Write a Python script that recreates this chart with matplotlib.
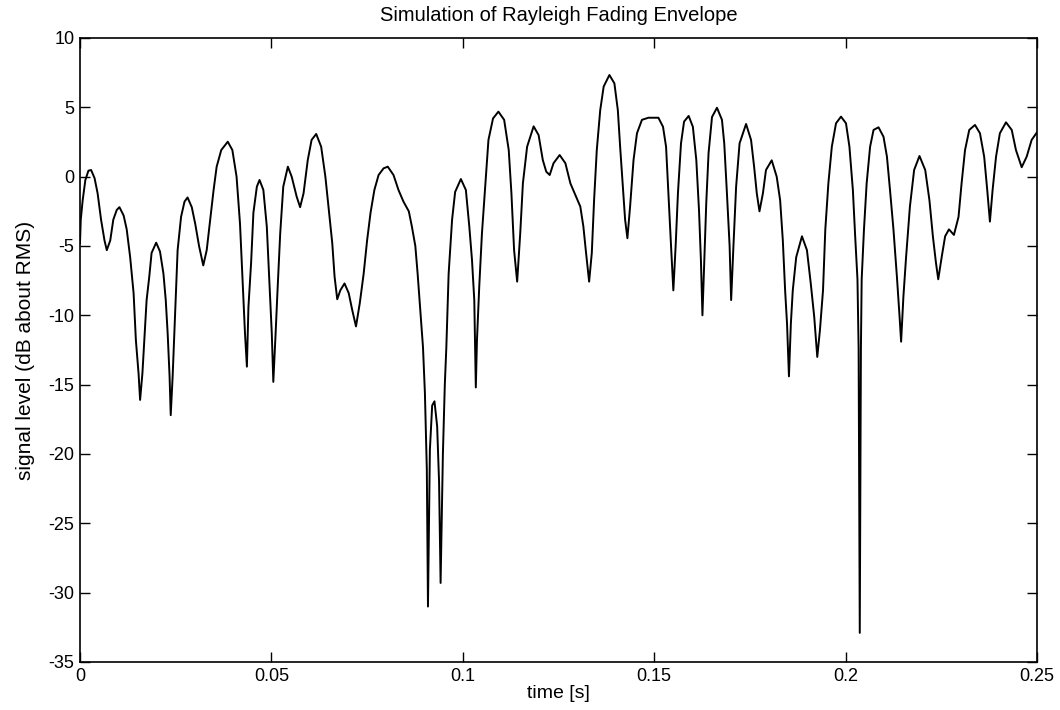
import matplotlib
matplotlib.use("Agg")
import matplotlib.pyplot as plt

# time [s] and envelope level [dB about RMS]
t = [0.0000, 0.0002, 0.0007, 0.0014, 0.0022, 0.0029, 0.0038, 0.0046, 0.0055,
     0.0064, 0.0070, 0.0079, 0.0087, 0.0096, 0.0103, 0.0114, 0.0122, 0.0131,
     0.0140, 0.0146, 0.0153, 0.0157, 0.0163, 0.0168, 0.0174, 0.0181, 0.0187,
     0.0199, 0.0209, 0.0218, 0.0224, 0.0229, 0.0234, 0.0237, 0.0242, 0.0249,
     0.0255, 0.0264, 0.0273, 0.0281, 0.0292, 0.0301, 0.0311, 0.0322, 0.0331,
     0.0340, 0.0349, 0.0357, 0.0369, 0.0386, 0.0398, 0.0409, 0.0418, 0.0425,
     0.0431, 0.0436, 0.0440, 0.0447, 0.0453, 0.0462, 0.0469, 0.0479, 0.0488,
     0.0495, 0.0501, 0.0505, 0.0511, 0.0516, 0.0523, 0.0531, 0.0543, 0.0553,
     0.0566, 0.0575, 0.0584, 0.0595, 0.0605, 0.0617, 0.0630, 0.0641, 0.0650,
     0.0659, 0.0665, 0.0672, 0.0680, 0.0691, 0.0702, 0.0711, 0.0721, 0.0731,
     0.0741, 0.0750, 0.0759, 0.0769, 0.0780, 0.0793, 0.0804, 0.0819, 0.0832,
     0.0845, 0.0859, 0.0867, 0.0876, 0.0882, 0.0889, 0.0896, 0.0901, 0.0906,
     0.0909, 0.0914, 0.0920, 0.0926, 0.0933, 0.0938, 0.0942, 0.0948, 0.0953,
     0.0957, 0.0963, 0.0972, 0.0980, 0.0995, 0.1008, 0.1017, 0.1024, 0.1030,
     0.1034, 0.1037, 0.1043, 0.1050, 0.1059, 0.1067, 0.1079, 0.1093, 0.1108,
     0.1120, 0.1127, 0.1134, 0.1142, 0.1150, 0.1157, 0.1168, 0.1185, 0.1198,
     0.1209, 0.1218, 0.1227, 0.1237, 0.1253, 0.1268, 0.1281, 0.1294, 0.1307,
     0.1315, 0.1322, 0.1330, 0.1337, 0.1343, 0.1350, 0.1359, 0.1368, 0.1383,
     0.1396, 0.1405, 0.1411, 0.1418, 0.1424, 0.1430, 0.1437, 0.1446, 0.1455,
     0.1468, 0.1485, 0.1511, 0.1523, 0.1531, 0.1537, 0.1544, 0.1550, 0.1556,
     0.1562, 0.1570, 0.1578, 0.1590, 0.1601, 0.1610, 0.1617, 0.1622, 0.1626,
     0.1631, 0.1636, 0.1642, 0.1651, 0.1664, 0.1677, 0.1683, 0.1690, 0.1697,
     0.1701, 0.1707, 0.1714, 0.1723, 0.1740, 0.1753, 0.1761, 0.1768, 0.1775,
     0.1784, 0.1792, 0.1807, 0.1820, 0.1829, 0.1836, 0.1842, 0.1847, 0.1852,
     0.1857, 0.1862, 0.1871, 0.1886, 0.1899, 0.1909, 0.1918, 0.1926, 0.1933,
     0.1941, 0.1947, 0.1955, 0.1964, 0.1975, 0.1988, 0.2001, 0.2010, 0.2019,
     0.2025, 0.2031, 0.2034, 0.2037, 0.2040, 0.2042, 0.2048, 0.2055, 0.2064,
     0.2073, 0.2086, 0.2099, 0.2108, 0.2116, 0.2125, 0.2134, 0.2141, 0.2145,
     0.2151, 0.2158, 0.2168, 0.2179, 0.2193, 0.2208, 0.2219, 0.2228, 0.2236,
     0.2242, 0.2251, 0.2260, 0.2270, 0.2283, 0.2295, 0.2303, 0.2312, 0.2323,
     0.2338, 0.2351, 0.2362, 0.2370, 0.2377, 0.2384, 0.2393, 0.2403, 0.2419,
     0.2434, 0.2445, 0.2460, 0.2473, 0.2486, 0.2500]
level_db = [-4.8, -3.1, -1.7, -0.24, 0.43, 0.48, -0.1, -1.2, -3.1,
            -4.6, -5.3, -4.6, -3.1, -2.4, -2.2, -2.8, -3.8, -5.8,
            -8.4, -11.8, -14.2, -16.1, -14.2, -11.8, -8.9, -7.2, -5.5,
            -4.76, -5.4, -7.0, -8.9, -11.3, -14.4, -17.2, -14.4, -9.4,
            -5.3, -2.9, -1.8, -1.5, -2.2, -3.4, -5.0, -6.4, -5.3,
            -3.1, -0.96, 0.72, 1.92, 2.52, 1.92, 0.0, -3.4, -7.7,
            -11.3, -13.7, -9.4, -6.2, -2.6, -0.72, -0.24, -0.96, -3.6,
            -7.7, -11.3, -14.8, -11.3, -8.2, -4.1, -0.72, 0.72, 0.0,
            -1.44, -2.2, -1.2, 1.2, 2.65, 3.08, 2.16, 0.0, -2.4,
            -4.8, -7.2, -8.84, -8.2, -7.7, -8.4, -9.6, -10.8, -9.1,
            -7.0, -4.6, -2.6, -0.96, 0.12, 0.6, 0.72, 0.12, -0.96,
            -1.8, -2.5, -3.6, -5.0, -7.0, -9.6, -12.3, -15.6, -21.1,
            -31.0, -19.7, -16.5, -16.2, -18.0, -22.0, -29.3, -20.0, -15.0,
            -12.3, -7.0, -3.1, -1.1, -0.17, -0.96, -3.6, -6.0, -8.9,
            -15.2, -11.8, -7.9, -4.1, -0.48, 2.65, 4.2, 4.69, 4.1,
            1.92, -1.2, -5.3, -7.57, -4.1, -0.48, 2.16, 3.63, 3.0,
            1.2, 0.36, 0.12, 0.97, 1.56, 0.97, -0.48, -1.32, -2.16,
            -3.6, -5.5, -7.57, -5.5, -1.68, 1.92, 4.8, 6.5, 7.33,
            6.73, 4.8, 2.16, -0.72, -3.1, -4.44, -2.16, 1.2, 3.13,
            4.1, 4.25, 4.25, 3.6, 2.16, -1.2, -5.0, -8.2, -5.0,
            -1.2, 2.4, 3.97, 4.38, 3.6, 1.2, -2.4, -6.0, -10.0,
            -6.0, -1.9, 1.7, 4.3, 4.97, 4.1, 2.4, -1.2, -5.0,
            -8.9, -5.0, -0.72, 2.4, 3.8, 2.65, 0.72, -1.2, -2.5,
            -1.2, 0.48, 1.18, 0.0, -1.7, -4.6, -8.2, -10.6, -14.4,
            -10.6, -8.2, -5.8, -4.3, -5.3, -7.7, -10.1, -13.0, -11.05,
            -8.2, -3.8, -0.48, 2.16, 3.85, 4.33, 3.85, 2.16, -0.96,
            -4.3, -7.4, -12.4, -32.9, -12.4, -7.4, -3.8, -0.48, 2.16,
            3.37, 3.56, 2.88, 1.44, -0.96, -3.8, -7.2, -10.1, -11.9,
            -8.65, -5.8, -2.16, 0.48, 1.49, 0.48, -1.7, -4.3, -6.2,
            -7.4, -5.8, -4.3, -3.8, -4.2, -2.9, -0.48, 1.92, 3.37,
            3.73, 3.13, 1.44, -0.96, -3.24, -0.96, 1.44, 3.13, 3.92,
            3.37, 1.92, 0.68, 1.44, 2.65, 3.2]

xticks = [0, 0.05, 0.1, 0.15, 0.2, 0.25]
xtick_labels = ["0", "0.05", "0.1", "0.15", "0.2", "0.25"]
yticks = [-35, -30, -25, -20, -15, -10, -5, 0, 5, 10]

plt.rcParams['font.family'] = ['Liberation Sans', 'DejaVu Sans']
plt.rcParams['axes.unicode_minus'] = False

fig = plt.figure(figsize=(10.6, 7.1), dpi=100)
fig.patch.set_facecolor('white')
ax = fig.add_axes([80 / 1060, 1 - 662 / 710, 957 / 1060, 624 / 710])

ax.plot(t, level_db, color='black', linewidth=1.4)

ax.set_xlim(0, 0.25)
ax.set_ylim(-35, 10)
ax.set_xticks(xticks)
ax.set_xticklabels(xtick_labels)
ax.set_yticks(yticks)
ax.tick_params(direction='in', length=7, width=1, top=True, right=True,
               labelsize=13, pad=4)
for s in ax.spines.values():
    s.set_linewidth(1.2)

ax.set_title("Simulation of Rayleigh Fading Envelope", fontsize=14.5, pad=12)
ax.set_xlabel("time [s]", fontsize=14, labelpad=0)
ax.set_ylabel("signal level (dB about RMS)", fontsize=15, labelpad=10)

fig.savefig("out.png", dpi=100)
